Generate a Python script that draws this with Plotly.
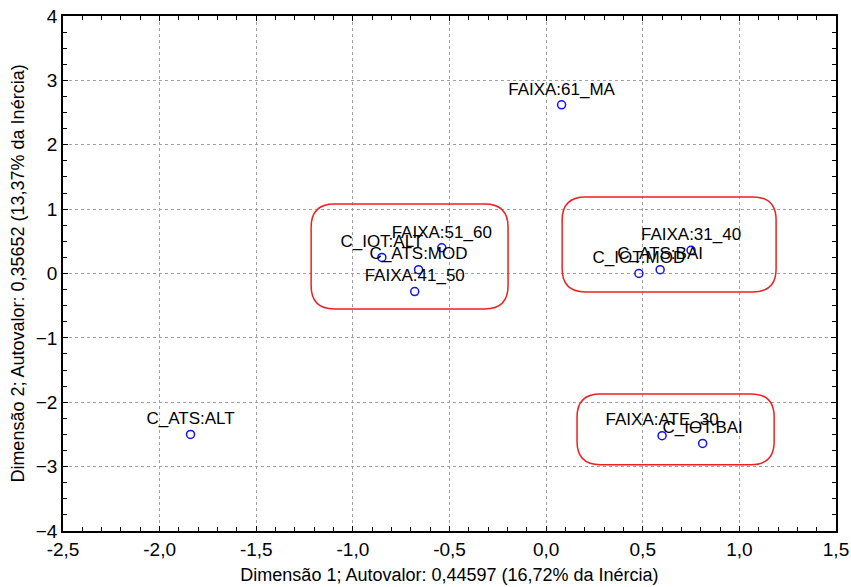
import plotly.graph_objects as go

# Category coordinates on the first two dimensions
labels = ["FAIXA:61_MA", "C_ATS:ALT", "C_IOT:ALT", "FAIXA:51_60", "C_ATS:MOD",
          "FAIXA:41_50", "FAIXA:31_40", "C_ATS:BAI", "C_IOT:MOD",
          "FAIXA:ATE_30", "C_IOT:BAI"]
dim1 = [0.08, -1.84, -0.85, -0.54, -0.66, -0.68, 0.75, 0.59, 0.48, 0.60, 0.81]
dim2 = [2.62, -2.50, 0.25, 0.40, 0.06, -0.28, 0.36, 0.06, 0.00, -2.52, -2.64]

# Groups highlighted with rounded boxes: (x0, x1, y0, y1)
group_boxes = [
    (-1.216, -0.197, -0.55, 1.08),
    (0.083, 1.19, -0.286, 1.19),
    (0.16, 1.18, -2.97, -1.87),
]

x_ticks = [-2.5, -2.0, -1.5, -1.0, -0.5, 0.0, 0.5, 1.0, 1.5]
x_ticktext = ["-2,5", "-2,0", "-1,5", "-1,0", "-0,5", "0,0", "0,5", "1,0", "1,5"]
y_ticks = [-4, -3, -2, -1, 0, 1, 2, 3, 4]

FONT = "Liberation Sans, Arial, sans-serif"

fig = go.Figure()
fig.add_trace(go.Scatter(
    x=dim1, y=dim2, mode="markers+text", text=labels,
    textposition="top center",
    textfont=dict(family=FONT, size=17, color="black"),
    marker=dict(symbol="circle-open", size=8, color="#1010ff",
                line=dict(width=1.5, color="#1010ff")),
    cliponaxis=False, hoverinfo="skip", showlegend=False,
))


def rounded_path(x0, x1, y0, y1, rx, ry):
    return (f"M {x0+rx},{y1} L {x1-rx},{y1} Q {x1},{y1} {x1},{y1-ry} "
            f"L {x1},{y0+ry} Q {x1},{y0} {x1-rx},{y0} "
            f"L {x0+rx},{y0} Q {x0},{y0} {x0},{y0+ry} "
            f"L {x0},{y1-ry} Q {x0},{y1} {x0+rx},{y1} Z")


for x0, x1, y0, y1 in group_boxes:
    fig.add_shape(type="path", xref="x", yref="y",
                  path=rounded_path(x0, x1, y0, y1, 0.12, 0.36),
                  line=dict(color="#ee2020", width=1.5))

fig.update_layout(
    width=851, height=587,
    margin=dict(l=63, r=15, t=16, b=56),
    paper_bgcolor="white", plot_bgcolor="white",
    font=dict(family=FONT, size=18, color="black"),
)
fig.update_xaxes(
    range=[-2.5, 1.5], tickvals=x_ticks, ticktext=x_ticktext, automargin=False,
    showgrid=True, gridcolor="#a0a0a0", griddash="dot", gridwidth=1,
    zeroline=False, showline=True, linecolor="black", linewidth=1.5,
    mirror="ticks", ticks="inside", ticklen=5, tickcolor="black",
    minor=dict(dtick=0.1, ticks="inside", ticklen=4, tickcolor="black", showgrid=False),
    title=dict(text="Dimensão 1; Autovalor: 0,44597 (16,72% da Inércia)",
               font=dict(size=18), standoff=10),
    tickfont=dict(size=19),
)
fig.update_yaxes(
    range=[-4, 4], tickvals=y_ticks, automargin=False,
    showgrid=True, gridcolor="#a0a0a0", griddash="dot", gridwidth=1,
    zeroline=False, showline=True, linecolor="black", linewidth=1.5,
    mirror="ticks", ticks="inside", ticklen=5, tickcolor="black",
    minor=dict(dtick=0.25, ticks="inside", ticklen=4, tickcolor="black", showgrid=False),
    title=dict(text="Dimensão 2; Autovalor: 0,35652 (13,37% da Inércia)",
               font=dict(size=18), standoff=6),
    tickfont=dict(size=19),
)

fig.write_html("out.html")
